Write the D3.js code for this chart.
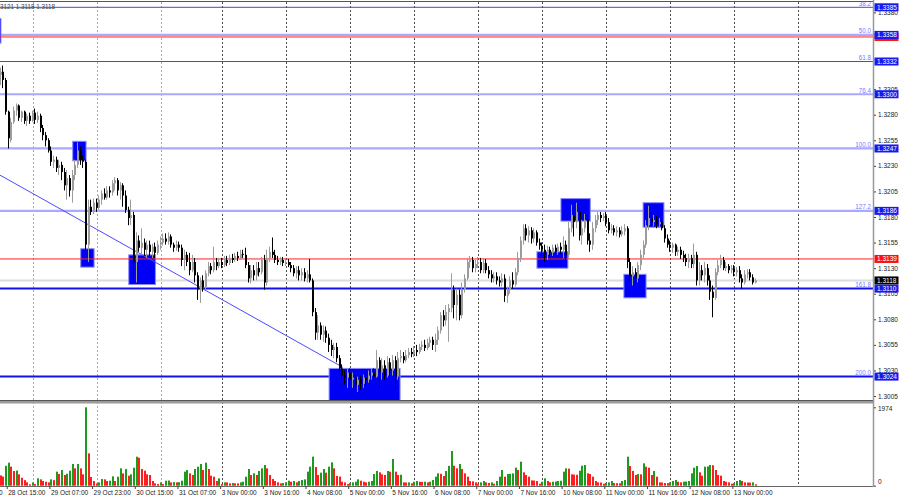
<!DOCTYPE html>
<html><head><meta charset="utf-8">
<script src="https://cdn.jsdelivr.net/npm/d3@7/dist/d3.min.js"></script>
<style>
html,body{margin:0;padding:0;background:#fff;}
svg{display:block;}
text{font-family:"Liberation Sans",Arial,sans-serif;}
</style></head>
<body><svg id="chart" width="900" height="500"></svg>
<script>
// ---------- DATA (GBPUSD H1, 28 Oct 12:00 -> 13 Nov 08:00) ----------
const opens = [1.3319,1.3322,1.3314,1.3283,1.3255,1.3273,1.3284,1.3289,1.3277,1.3283,1.3274,1.3279,
1.3274,1.3282,1.3275,1.3279,1.3267,1.3260,1.3255,1.3245,1.3234,1.3236,1.3228,1.3231,1.3224,1.3211,1.3218,1.3206,1.3221,1.3231,1.3245,1.3236,1.3234,1.3153,1.3190,1.3185,
1.3194,1.3189,1.3197,1.3203,1.3199,1.3206,1.3204,1.3213,1.3216,1.3206,1.3211,1.3201,1.3187,1.3179,1.3182,1.3136,1.3157,1.3150,1.3155,1.3148,1.3153,1.3146,1.3151,1.3145,
1.3153,1.3155,1.3159,1.3156,1.3161,1.3153,1.3150,1.3153,1.3150,1.3138,1.3143,1.3136,1.3128,1.3136,1.3123,1.3109,1.3118,1.3111,1.3125,1.3132,1.3128,1.3136,1.3132,
1.3136,1.3133,1.3138,1.3135,1.3140,1.3138,1.3142,1.3140,1.3144,1.3143,1.3133,1.3120,1.3128,1.3123,1.3130,1.3126,1.3138,1.3116,1.3140,1.3146,1.3143,1.3138,1.3136,1.3138,
1.3135,1.3136,1.3133,1.3130,1.3125,1.3128,1.3123,1.3126,1.3120,1.3124,1.3118,1.3087,1.3067,1.3074,1.3065,1.3069,1.3062,1.3055,1.3050,1.3053,1.3042,1.3032,1.3025,1.3023,
1.3028,1.3021,1.3023,1.3016,1.3021,1.3017,1.3023,1.3021,1.3025,1.3028,1.3024,1.3040,1.3028,1.3035,1.3025,1.3038,1.3030,1.3040,1.3024,1.3042,1.3044,1.3040,1.3045,1.3048,
1.3046,1.3050,1.3048,1.3053,1.3055,1.3052,1.3057,1.3060,1.3055,1.3060,1.3069,1.3084,1.3079,1.3087,1.3091,1.3109,1.3094,1.3104,1.3084,1.3109,1.3120,1.3136,1.3138,1.3130,
1.3134,1.3136,1.3128,1.3135,1.3128,1.3124,1.3120,1.3122,1.3118,1.3116,1.3120,1.3103,1.3109,1.3118,1.3114,1.3126,1.3140,1.3157,1.3169,1.3162,1.3167,1.3159,1.3165,1.3155,
1.3152,1.3148,1.3143,1.3148,1.3145,1.3150,1.3146,1.3151,1.3148,1.3153,1.3143,1.3169,1.3182,1.3175,1.3185,1.3162,1.3169,1.3177,1.3157,1.3153,1.3169,1.3177,1.3182,1.3179,
1.3181,1.3175,1.3167,1.3169,1.3165,1.3167,1.3163,1.3166,1.3169,1.3136,1.3122,1.3126,1.3120,1.3133,1.3143,1.3153,1.3172,1.3179,1.3175,1.3177,1.3173,1.3175,1.3169,1.3159,
1.3153,1.3150,1.3153,1.3146,1.3148,1.3143,1.3140,1.3136,1.3140,1.3134,1.3143,1.3118,1.3128,1.3123,1.3130,1.3118,1.3107,1.3101,1.3126,1.3133,1.3138,1.3130,1.3132,1.3128,
1.3130,1.3126,1.3128,1.3120,1.3116,1.3124,1.3126,1.3121,1.3116];

const highs = [1.3326,1.3328,1.3316,1.3284,1.3277,1.3288,1.3291,1.3290,1.3284,1.3284,1.3281,1.3282,
1.3284,1.3286,1.3283,1.3281,1.3270,1.3263,1.3257,1.3249,1.3240,1.3239,1.3236,1.3234,1.3228,1.3226,1.3221,1.3226,1.3236,1.3253,1.3249,1.3240,1.3236,1.3197,1.3197,1.3198,
1.3198,1.3201,1.3206,1.3208,1.3210,1.3210,1.3216,1.3219,1.3218,1.3214,1.3213,1.3206,1.3190,1.3197,1.3185,1.3165,1.3162,1.3169,1.3159,1.3157,1.3157,1.3154,1.3155,1.3157,
1.3161,1.3164,1.3164,1.3165,1.3163,1.3155,1.3157,1.3156,1.3153,1.3148,1.3146,1.3145,1.3143,1.3140,1.3126,1.3121,1.3123,1.3128,1.3136,1.3135,1.3151,1.3140,1.3140,
1.3140,1.3142,1.3142,1.3143,1.3144,1.3145,1.3146,1.3148,1.3148,1.3150,1.3136,1.3133,1.3133,1.3136,1.3136,1.3141,1.3143,1.3148,1.3151,1.3160,1.3148,1.3142,1.3141,1.3141,
1.3140,1.3139,1.3136,1.3133,1.3132,1.3132,1.3130,1.3130,1.3128,1.3139,1.3120,1.3091,1.3084,1.3077,1.3074,1.3073,1.3066,1.3060,1.3057,1.3057,1.3045,1.3036,1.3030,1.3032,
1.3032,1.3028,1.3026,1.3024,1.3025,1.3026,1.3028,1.3030,1.3032,1.3032,1.3050,1.3043,1.3042,1.3040,1.3044,1.3042,1.3045,1.3044,1.3048,1.3050,1.3048,1.3050,1.3052,1.3052,
1.3054,1.3055,1.3056,1.3059,1.3060,1.3061,1.3063,1.3063,1.3066,1.3073,1.3087,1.3089,1.3094,1.3095,1.3125,1.3113,1.3110,1.3109,1.3116,1.3124,1.3140,1.3142,1.3141,1.3138,
1.3141,1.3140,1.3140,1.3139,1.3132,1.3128,1.3126,1.3126,1.3122,1.3125,1.3124,1.3112,1.3122,1.3126,1.3130,1.3146,1.3161,1.3173,1.3173,1.3171,1.3170,1.3169,1.3167,1.3159,
1.3155,1.3153,1.3152,1.3151,1.3153,1.3153,1.3154,1.3155,1.3161,1.3157,1.3175,1.3192,1.3187,1.3194,1.3189,1.3177,1.3183,1.3182,1.3164,1.3175,1.3182,1.3185,1.3185,1.3184,
1.3185,1.3179,1.3173,1.3172,1.3171,1.3170,1.3171,1.3173,1.3171,1.3140,1.3132,1.3130,1.3136,1.3148,1.3157,1.3177,1.3191,1.3185,1.3182,1.3181,1.3179,1.3178,1.3172,1.3163,
1.3157,1.3155,1.3154,1.3151,1.3151,1.3147,1.3144,1.3144,1.3143,1.3154,1.3146,1.3136,1.3133,1.3136,1.3134,1.3123,1.3113,1.3130,1.3138,1.3143,1.3141,1.3136,1.3134,1.3133,
1.3133,1.3131,1.3132,1.3124,1.3128,1.3129,1.3129,1.3124,1.3120];

const lows = [1.3309,1.3306,1.3280,1.3247,1.3253,1.3271,1.3279,1.3274,1.3273,1.3271,1.3269,1.3271,
1.3273,1.3271,1.3272,1.3263,1.3255,1.3249,1.3243,1.3230,1.3228,1.3224,1.3221,1.3216,1.3206,1.3197,1.3200,1.3194,1.3216,1.3228,1.3231,1.3228,1.3148,1.3136,1.3182,1.3183,
1.3185,1.3187,1.3192,1.3197,1.3197,1.3199,1.3201,1.3206,1.3201,1.3197,1.3190,1.3184,1.3172,1.3172,1.3118,1.3116,1.3146,1.3143,1.3142,1.3140,1.3142,1.3140,1.3140,1.3143,
1.3148,1.3152,1.3153,1.3153,1.3150,1.3146,1.3147,1.3146,1.3132,1.3128,1.3132,1.3123,1.3126,1.3116,1.3099,1.3096,1.3107,1.3109,1.3122,1.3124,1.3126,1.3128,1.3130,
1.3130,1.3131,1.3132,1.3133,1.3135,1.3136,1.3137,1.3138,1.3140,1.3130,1.3116,1.3115,1.3118,1.3118,1.3122,1.3124,1.3109,1.3113,1.3136,1.3140,1.3135,1.3133,1.3133,1.3132,
1.3132,1.3131,1.3126,1.3122,1.3120,1.3118,1.3118,1.3117,1.3116,1.3116,1.3083,1.3060,1.3060,1.3060,1.3058,1.3057,1.3048,1.3044,1.3042,1.3038,1.3027,1.3021,1.3016,1.3013,
1.3016,1.3013,1.3011,1.3009,1.3011,1.3013,1.3015,1.3018,1.3021,1.3021,1.3023,1.3013,1.3021,1.3021,1.3023,1.3025,1.3025,1.3011,1.3021,1.3038,1.3037,1.3038,1.3042,1.3043,
1.3043,1.3044,1.3046,1.3050,1.3049,1.3050,1.3053,1.3050,1.3048,1.3055,1.3066,1.3073,1.3074,1.3058,1.3087,1.3081,1.3079,1.3079,1.3081,1.3106,1.3118,1.3130,1.3126,1.3126,
1.3130,1.3125,1.3125,1.3125,1.3120,1.3116,1.3116,1.3114,1.3112,1.3112,1.3097,1.3096,1.3105,1.3110,1.3112,1.3123,1.3136,1.3153,1.3157,1.3155,1.3154,1.3155,1.3152,1.3148,
1.3142,1.3136,1.3138,1.3141,1.3142,1.3143,1.3143,1.3144,1.3140,1.3138,1.3140,1.3165,1.3161,1.3169,1.3157,1.3153,1.3165,1.3153,1.3146,1.3148,1.3165,1.3172,1.3175,1.3176,
1.3171,1.3164,1.3164,1.3162,1.3161,1.3160,1.3161,1.3162,1.3130,1.3116,1.3113,1.3114,1.3116,1.3128,1.3140,1.3150,1.3167,1.3171,1.3171,1.3169,1.3170,1.3167,1.3155,1.3150,
1.3146,1.3145,1.3142,1.3142,1.3139,1.3136,1.3132,1.3130,1.3130,1.3130,1.3113,1.3113,1.3118,1.3116,1.3113,1.3099,1.3082,1.3099,1.3123,1.3130,1.3128,1.3127,1.3125,1.3125,
1.3122,1.3122,1.3116,1.3110,1.3114,1.3120,1.3118,1.3114,1.3115];

const closes = [1.3322,1.3314,1.3283,1.3257,1.3273,1.3284,1.3289,1.3277,1.3283,1.3274,1.3279,1.3274,
1.3282,1.3275,1.3279,1.3267,1.3260,1.3255,1.3245,1.3234,1.3236,1.3228,1.3231,1.3224,1.3211,1.3218,1.3206,1.3221,1.3231,1.3245,1.3236,1.3234,1.3153,1.3190,1.3185,1.3194,
1.3189,1.3197,1.3203,1.3199,1.3206,1.3204,1.3213,1.3216,1.3206,1.3211,1.3201,1.3187,1.3179,1.3182,1.3136,1.3157,1.3150,1.3155,1.3148,1.3153,1.3146,1.3151,1.3145,1.3153,
1.3155,1.3159,1.3156,1.3161,1.3153,1.3150,1.3153,1.3150,1.3138,1.3143,1.3136,1.3128,1.3136,1.3123,1.3109,1.3118,1.3111,1.3125,1.3132,1.3128,1.3136,1.3132,1.3136,
1.3133,1.3138,1.3135,1.3140,1.3138,1.3142,1.3140,1.3144,1.3143,1.3133,1.3120,1.3128,1.3123,1.3130,1.3126,1.3138,1.3116,1.3140,1.3146,1.3143,1.3138,1.3136,1.3138,1.3135,
1.3136,1.3133,1.3130,1.3125,1.3128,1.3123,1.3126,1.3120,1.3124,1.3118,1.3087,1.3067,1.3074,1.3065,1.3069,1.3062,1.3055,1.3050,1.3053,1.3042,1.3032,1.3025,1.3023,1.3028,
1.3021,1.3023,1.3016,1.3021,1.3017,1.3023,1.3021,1.3025,1.3028,1.3024,1.3040,1.3028,1.3035,1.3025,1.3038,1.3030,1.3040,1.3024,1.3042,1.3044,1.3040,1.3045,1.3048,1.3046,
1.3050,1.3048,1.3053,1.3055,1.3052,1.3057,1.3060,1.3055,1.3060,1.3069,1.3084,1.3079,1.3087,1.3091,1.3109,1.3094,1.3104,1.3084,1.3109,1.3120,1.3136,1.3138,1.3130,1.3134,
1.3136,1.3128,1.3135,1.3128,1.3124,1.3120,1.3122,1.3118,1.3116,1.3120,1.3103,1.3109,1.3118,1.3114,1.3126,1.3140,1.3157,1.3169,1.3162,1.3167,1.3159,1.3165,1.3155,1.3152,
1.3148,1.3143,1.3148,1.3145,1.3150,1.3146,1.3151,1.3148,1.3153,1.3143,1.3169,1.3182,1.3175,1.3185,1.3162,1.3169,1.3177,1.3157,1.3153,1.3169,1.3177,1.3182,1.3179,1.3181,
1.3175,1.3167,1.3169,1.3165,1.3167,1.3163,1.3166,1.3169,1.3136,1.3122,1.3126,1.3120,1.3133,1.3143,1.3153,1.3172,1.3179,1.3175,1.3177,1.3173,1.3175,1.3169,1.3159,1.3153,
1.3150,1.3153,1.3146,1.3148,1.3143,1.3140,1.3136,1.3140,1.3134,1.3143,1.3118,1.3128,1.3123,1.3130,1.3118,1.3107,1.3101,1.3126,1.3133,1.3138,1.3130,1.3132,1.3128,1.3130,
1.3126,1.3128,1.3120,1.3116,1.3124,1.3126,1.3121,1.3116,1.3118];

const volumes = [260,230,500,580,480,370,380,285,200,140,85,35,
84,42,185,160,118,100,84,160,140,353,294,395,269,300,378,546,437,546,437,286,1974,815,218,118,
59,84,168,160,118,126,235,118,227,437,311,420,252,286,454,731,706,420,378,286,269,118,59,42,
84,42,126,130,84,90,84,88,126,353,395,311,269,420,479,546,395,580,420,252,227,118,185,
42,84,84,59,67,59,59,84,100,227,420,269,311,269,370,437,521,437,269,168,118,84,59,67,
84,126,100,118,84,118,143,160,353,480,731,470,269,328,420,328,479,588,437,244,230,100,84,42,
67,84,100,160,126,100,84,100,118,294,370,336,286,269,370,353,672,353,269,275,84,80,84,59,
100,118,100,95,100,84,100,143,227,311,300,244,370,500,873,504,437,546,420,311,227,118,110,84,
50,84,118,84,67,84,50,118,227,395,227,294,300,311,454,395,605,336,269,227,134,130,118,50,
100,185,118,84,100,105,118,125,353,437,430,286,280,275,378,504,521,311,294,227,118,84,80,50,
67,84,118,67,64,60,118,143,731,496,370,269,294,286,563,479,454,269,370,227,84,80,67,64,
84,118,143,100,84,100,105,118,311,454,496,336,252,479,485,521,515,395,269,252,118,100,84,50,
67,118,143,118,84,80,76,84,35];
const volumeMax = 1974;

const timeTickBars = [-13,3,19,35,51,67,83,99,115,131,147,163,179,195,211,227,243,259,275];
const timeTickLabels = ["27 Oct 23:00","28 Oct 15:00","29 Oct 07:00","29 Oct 23:00","30 Oct 15:00","31 Oct 07:00",
"3 Nov 00:00","3 Nov 16:00","4 Nov 08:00","5 Nov 00:00","5 Nov 16:00","6 Nov 08:00","7 Nov 00:00","7 Nov 16:00",
"10 Nov 08:00","11 Nov 00:00","11 Nov 16:00","12 Nov 08:00","13 Nov 00:00"];
const dayStartBars = [12,36,60,83,107,131,155,179,203,227,251,275,299];

const priceTicks = [1.3380,1.3355,1.3330,1.3305,1.3280,1.3255,1.3230,1.3205,1.3180,1.3155,1.3130,1.3105,1.3080,1.3055,1.3030,1.3005];
const fiboLevels = [1.3385,1.3358,1.3332,1.3300,1.3247,1.3186,1.3110,1.3024];
const fiboNames = ["38.2","50.0","61.8","76.4","100.0","127.2","161.8","200.0"];
const redLevels = [1.3139,1.3356];
const bidPrice = 1.3118;
const infoText = "3121 1.3118 1.3118";

const zoneStart  = [-20, 27.0, 30.0, 48.0, 123.1, 201.0, 210.0, 233.6, 240.8];
const zoneEnd    = [0.1, 32.0, 35.0, 58.0, 149.7, 212.6, 221.0, 241.9, 248.6];
const zoneTop    = [1.3374,1.3254,1.3149,1.3143,1.3032,1.3146,1.3198,1.3124,1.3194];
const zoneBottom = [1.3350,1.3235,1.3131,1.3114,1.2990,1.3130,1.3176,1.3101,1.3170];

const trendBars   = [-0.3, 128.3];
const trendPrices = [1.3221, 1.3033];

// ---------- STYLES / LAYOUT ----------
const FONT = '"Liberation Sans", Arial, sans-serif';
const PLOT_R = 873, MAIN_T = 2, MAIN_B = 400, VOL_T = 404, VOL_B = 486;
const fiboColors = ['#4646dc','#a9a9ff','#4646dc','#a9a9ff','#a9a9ff','#a9a9ff','#1010f0','#1010f0'];
const fiboWidths = [1,2.4,1,2.2,2.2,2.2,2,2];

const svg = d3.select('#chart');
const x  = d3.scaleLinear().domain([0, opens.length - 1]).range([0.7, 755.7]);
const y  = d3.scaleLinear().domain([1.3024, 1.3385]).range([376.6, 7.3]);
const yv = d3.scaleLinear().domain([0, volumeMax]).range([485.7, 407.3]);

const bars = opens.map((o, i) => ({i, o, h: highs[i], l: lows[i], c: closes[i], v: volumes[i]}));

const defs = svg.append('defs');
defs.append('clipPath').attr('id','cm').append('rect')
  .attr('x',0).attr('y',MAIN_T).attr('width',PLOT_R).attr('height',MAIN_B-MAIN_T);
defs.append('clipPath').attr('id','cv').append('rect')
  .attr('x',0).attr('y',VOL_T).attr('width',PLOT_R).attr('height',VOL_B-VOL_T);

// grid (day separators)
svg.append('g').selectAll('line').data(dayStartBars).join('line')
  .attr('x1', d => Math.round(x(d)) + 0.5).attr('x2', d => Math.round(x(d)) + 0.5)
  .attr('y1', MAIN_T).attr('y2', VOL_B)
  .attr('stroke', (d, k) => k < 3 ? '#a8a8a8' : '#4a4a4a')
  .attr('stroke-width', 1).attr('stroke-dasharray', '2,2');

const main = svg.append('g').attr('clip-path','url(#cm)');

// bid line
main.append('line').attr('x1',0).attr('x2',PLOT_R)
  .attr('y1', y(bidPrice)).attr('y2', y(bidPrice))
  .attr('stroke','#dcdcdc').attr('stroke-width',2);

// fibo lines
main.selectAll('line.fib').data(fiboLevels).join('line').attr('class','fib')
  .attr('x1',0).attr('x2',PLOT_R)
  .attr('y1', d => y(d)).attr('y2', d => y(d))
  .attr('stroke', (d,k) => fiboColors[k]).attr('stroke-width', (d,k) => fiboWidths[k]);

// zones
main.selectAll('rect.zone').data(zoneStart).join('rect').attr('class','zone')
  .attr('x', (d,k) => x(zoneStart[k]))
  .attr('width', (d,k) => x(zoneEnd[k]) - x(zoneStart[k]))
  .attr('y', (d,k) => y(zoneTop[k]))
  .attr('height', (d,k) => y(zoneBottom[k]) - y(zoneTop[k]))
  .attr('fill','#0000f5').attr('stroke','#8a8aff').attr('stroke-width',1);

// red horizontal lines
main.selectAll('line.red').data(redLevels).join('line').attr('class','red')
  .attr('x1',0).attr('x2',PLOT_R)
  .attr('y1', d => y(d)).attr('y2', d => y(d))
  .attr('stroke','#ff2020').attr('stroke-width',1);

// trend line
main.append('line')
  .attr('x1', x(trendBars[0])).attr('y1', y(trendPrices[0]))
  .attr('x2', x(trendBars[1])).attr('y2', y(trendPrices[1]))
  .attr('stroke','#4a4aff').attr('stroke-width',1);

// fibo names
main.selectAll('text.fn').data(fiboLevels).join('text').attr('class','fn')
  .attr('x', 871).attr('y', d => y(d) - 1.5)
  .attr('text-anchor','end').attr('font-size', 6.3).attr('font-family', FONT)
  .attr('fill','#7a7aff').text((d,k) => fiboNames[k]);

// candles
const up = d => d.c >= d.o;
main.selectAll('line.wick').data(bars).join('line').attr('class','wick')
  .attr('x1', d => Math.round(x(d.i)) - 0.5).attr('x2', d => Math.round(x(d.i)) - 0.5)
  .attr('y1', d => y(d.h)).attr('y2', d => y(d.l))
  .attr('stroke', d => up(d) ? '#9c9c9c' : '#000').attr('stroke-width', 1);
main.selectAll('rect.body').data(bars).join('rect').attr('class','body')
  .attr('x', d => Math.round(x(d.i)) - 1).attr('width', 2)
  .attr('y', d => y(Math.max(d.o, d.c)))
  .attr('height', d => Math.max(1, Math.abs(y(d.o) - y(d.c))))
  .attr('fill', d => up(d) ? '#9c9c9c' : '#000');

// info text
svg.append('text').attr('x',0).attr('y',8.5).attr('font-size',6.3).attr('font-family',FONT)
  .attr('fill','#444').text(infoText);

// volumes
const vol = svg.append('g').attr('clip-path','url(#cv)');
vol.selectAll('rect').data(bars).join('rect')
  .attr('x', d => Math.round(x(d.i)) - 1).attr('width', 2)
  .attr('y', d => yv(d.v)).attr('height', d => yv(0) - yv(d.v))
  .attr('fill', d => (d.i > 0 && d.v > volumes[d.i - 1]) ? '#1e9b1e' : '#ff1e1e');

// frame lines
svg.append('line').attr('x1',0).attr('x2',PLOT_R).attr('y1',1.5).attr('y2',1.5)
  .attr('stroke','#555').attr('stroke-width',1);
svg.append('rect').attr('x',0).attr('y',400.5).attr('width',PLOT_R).attr('height',3)
  .attr('fill','#9c9c9c');
svg.append('line').attr('x1',0).attr('x2',PLOT_R).attr('y1',400.5).attr('y2',400.5)
  .attr('stroke','#555').attr('stroke-width',1);
svg.append('line').attr('x1',0).attr('x2',PLOT_R).attr('y1',VOL_B + 0.5).attr('y2',VOL_B + 0.5)
  .attr('stroke','#666').attr('stroke-width',1);
svg.append('line').attr('x1',PLOT_R + 0.5).attr('x2',PLOT_R + 0.5).attr('y1',0).attr('y2',VOL_B + 1)
  .attr('stroke','#999').attr('stroke-width',1.5);

// level tags on axis (red 50.0 companion tag sits under the blue one and only its edge shows)
const tags = [
  {p: redLevels[1], bg: '#ff1010', label: false},
  ...fiboLevels.map(p => ({p, bg: '#1818f0', label: true})),
  {p: redLevels[0], bg: '#ff1010', label: true},
  {p: bidPrice, bg: '#000', label: true}
];

// price axis: tick labels that would sit fully under a tag are left out (hidden in the reference)
const visibleTicks = priceTicks.filter(t => !tags.some(g => g.label && Math.abs(y(g.p) - y(t)) < 4));
const ay = svg.append('g').attr('transform',`translate(${PLOT_R + 1},0)`)
  .call(d3.axisRight(y).tickValues(visibleTicks).tickSize(2).tickPadding(2).tickFormat(d3.format('.4f')));
ay.select('.domain').remove();
ay.attr('font-size', 6.5).attr('font-family', FONT);
ay.selectAll('text').attr('fill','#222');
ay.selectAll('line').attr('stroke','#444');

const tg = svg.append('g');
tg.selectAll('rect').data(tags).join('rect')
  .attr('x', PLOT_R + 1.5).attr('y', d => y(d.p) - 4).attr('width', 24).attr('height', 8)
  .attr('fill', d => d.bg);
tg.selectAll('text').data(tags.filter(d => d.label)).join('text')
  .attr('x', PLOT_R + 4).attr('y', d => y(d.p) + 2.3)
  .attr('font-size', 6.5).attr('font-family', FONT).attr('fill','#fff')
  .text(d => d3.format('.4f')(d.p));

// volume axis
const av = svg.append('g').attr('transform',`translate(${PLOT_R + 1},0)`)
  .call(d3.axisRight(yv).tickValues([0, volumeMax]).tickSize(2).tickPadding(2).tickFormat(d3.format('d')));
av.select('.domain').remove();
av.attr('font-size', 6.5).attr('font-family', FONT);
av.selectAll('text').attr('fill','#222').attr('dy', d => d === 0 ? '-0.3em' : '0.5em');
av.selectAll('line').attr('stroke','#444');

// time axis
const ax = svg.append('g').attr('transform',`translate(-2,${VOL_B})`)
  .call(d3.axisBottom(x).tickValues(timeTickBars).tickSize(3).tickPadding(1)
    .tickFormat((d, k) => timeTickLabels[k]));
ax.select('.domain').remove();
ax.attr('font-size', 6.5).attr('font-family', FONT);
ax.selectAll('text').attr('text-anchor','start').attr('x', 1).attr('fill','#222');
ax.selectAll('line').attr('stroke','#444');
</script>
</body></html>
